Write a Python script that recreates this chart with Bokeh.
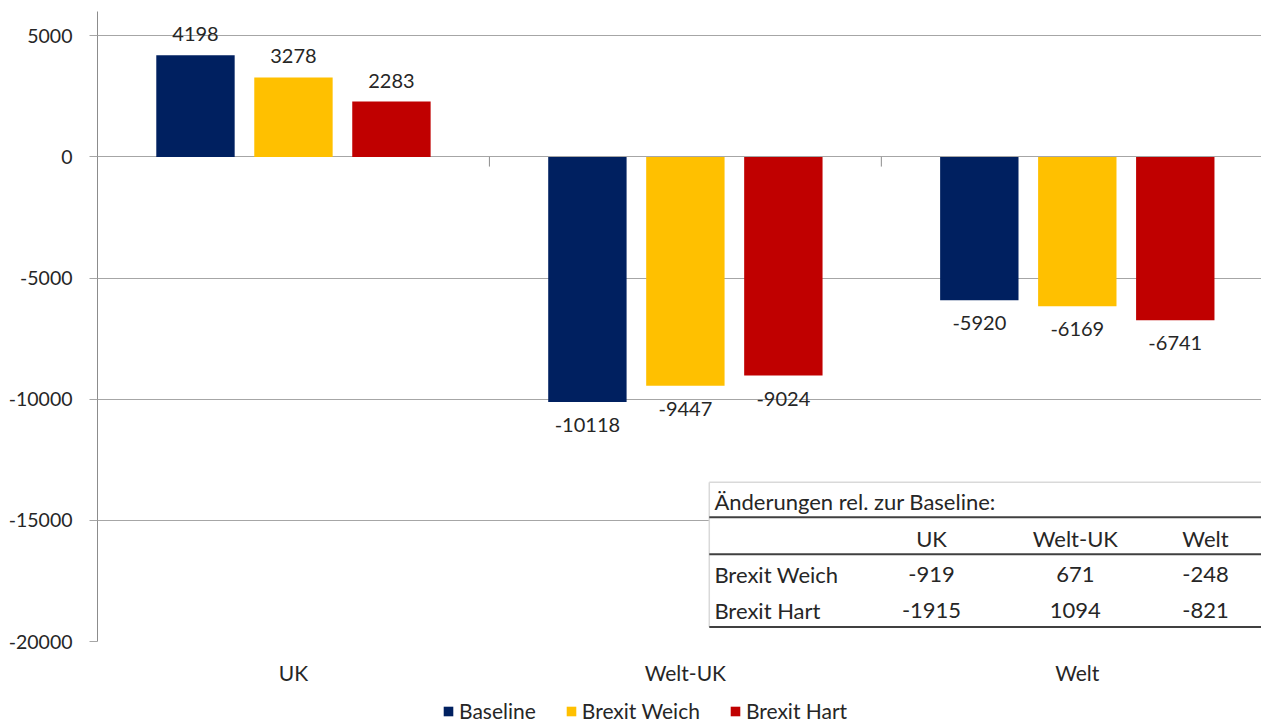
from bokeh.plotting import figure
from bokeh.layouts import column
from bokeh.models import (Range1d, ColumnDataSource, FixedTicker,
                          Legend, LegendItem)
from bokeh.transform import dodge
from bokeh.embed import file_html
from bokeh.resources import INLINE
from bokeh.core.properties import value

# ---------------- data ----------------
categories = ["UK", "Welt-UK", "Welt"]
series_names = ["Baseline", "Brexit Weich", "Brexit Hart"]
baseline = [4198, -10118, -5920]
brexit_weich = [3278, -9447, -6169]
brexit_hart = [2283, -9024, -6741]
y_ticks = [-20000, -15000, -10000, -5000, 0, 5000]

table_title = "Änderungen rel. zur Baseline:"
table_rows = ["Brexit Weich", "Brexit Hart"]
table_weich = [-919, 671, -248]
table_hart = [-1915, 1094, -821]

# ---------------- style ----------------
FONT = "Lato"
TXT = "#262626"
GRID = "#A6A6A6"
colors = ["#002060", "#FFC000", "#C00000"]
offsets = [-0.25, 0.0, 0.25]
BAR_W = 0.2
W = 1261

# category slots: category i occupies [i, i+1]; the frame shows a bit less
# than three full slots (the right edge of the original is cut off)
xc = [i + 0.5 for i in range(len(categories))]

p = figure(x_range=Range1d(0, 2.97), y_range=Range1d(-20000, 6000),
           width=W, height=694, output_backend="svg", toolbar_location=None,
           min_border_left=97, min_border_right=0, min_border_top=11,
           min_border_bottom=53)
p.outline_line_color = None
p.background_fill_color = "white"
p.xgrid.grid_line_color = None
p.yaxis.ticker = FixedTicker(ticks=y_ticks)
p.ygrid.grid_line_color = GRID
p.ygrid.grid_line_width = 1

p.yaxis.major_label_overrides = {t: str(t) for t in y_ticks}
p.yaxis.axis_line_color = "#8C8C8C"
p.yaxis.major_tick_line_color = GRID
p.yaxis.major_tick_out = 8
p.yaxis.major_tick_in = 0
p.yaxis.minor_tick_line_color = None
p.yaxis.major_label_standoff = 17
p.yaxis.major_label_text_font = FONT
p.yaxis.major_label_text_font_size = "19.5px"
p.yaxis.major_label_text_color = TXT

p.xaxis.ticker = FixedTicker(ticks=xc)
p.xaxis.major_label_overrides = {x: c for x, c in zip(xc, categories)}
p.xaxis.axis_line_color = None
p.xaxis.major_tick_line_color = None
p.xaxis.minor_tick_line_color = None
p.xaxis.major_label_standoff = 12
p.xaxis.major_label_text_font = FONT
p.xaxis.major_label_text_font_size = "21px"
p.xaxis.major_label_text_color = TXT

src = ColumnDataSource(dict(xc=xc, Baseline=baseline,
                            Weich=brexit_weich, Hart=brexit_hart))
cols = ["Baseline", "Weich", "Hart"]
for col, off, c, vals in zip(cols, offsets, colors, [baseline, brexit_weich, brexit_hart]):
    p.vbar(x=dodge("xc", off), top=col, bottom=0,
           width=BAR_W, source=src, fill_color=c, line_color=None)
    lsrc = ColumnDataSource(dict(xc=xc, v=vals,
                                 lbl=[str(v) for v in vals],
                                 yo=[-21 if v >= 0 else 23 for v in vals]))
    p.text(x=dodge("xc", off), y="v", text="lbl", y_offset="yo",
           source=lsrc, text_align="center", text_baseline="middle",
           text_font=value(FONT), text_font_size="20px", text_color=TXT)

# category separator ticks on the zero line
sep = ColumnDataSource(dict(xc=xc[:-1]))
p.segment(x0=dodge("xc", 0.5), y0=0, x1=dodge("xc", 0.5), y1=-400,
          source=sep, line_color="#8C8C8C", line_width=1)

# ---------------- inset table ----------------
TL, TR = 1.561, 2.97
T_TOP, T_BOT = -13430, -19405
Y_TITLE, Y_L1, Y_HEAD, Y_L2 = -14215, -14875, -15740, -16400
Y_R1, Y_R2 = -17225, -18710
col_x = [2.128, 2.495, 2.827]
p.quad(left=TL, right=TR, top=T_TOP, bottom=T_BOT, fill_color="white",
       line_color=None)
p.segment(x0=[TL, TL], y0=[T_TOP, T_TOP], x1=[TR, TL], y1=[T_TOP, T_BOT],
          line_color="#D9D9D9", line_width=1.5)
p.segment(x0=[TL] * 3, x1=[TR] * 3, y0=[Y_L1, Y_L2, T_BOT], y1=[Y_L1, Y_L2, T_BOT],
          line_color="#404040", line_width=2)
tkw = dict(text_font=value(FONT), text_font_size="22px", text_color=TXT,
           text_baseline="middle")
p.text(x=[TL + 0.013], y=[Y_TITLE], text=[table_title], text_align="left", **tkw)
p.text(x=col_x, y=[Y_HEAD] * 3, text=categories, text_align="center", **tkw)
p.text(x=[TL + 0.013] * 2, y=[Y_R1, Y_R2], text=table_rows, text_align="left", **tkw)
p.text(x=col_x, y=[Y_R1] * 3, text=[str(v) for v in table_weich],
       text_align="center", **tkw)
p.text(x=col_x, y=[Y_R2] * 3, text=[str(v) for v in table_hart],
       text_align="center", **tkw)

# ---------------- legend (own strip below the chart) ----------------
lp = figure(width=W, height=30, output_backend="svg", toolbar_location=None,
            x_range=Range1d(0, 1), y_range=Range1d(0, 1), min_border=0)
lp.axis.visible = False
lp.grid.visible = False
lp.outline_line_color = None
lrs = [lp.vbar(x=[-10], top=[-10], bottom=[-11], width=0.1, fill_color=c,
               line_color=None) for c in colors]
legend = Legend(items=[LegendItem(label=n, renderers=[r])
                       for n, r in zip(series_names, lrs)],
                orientation="horizontal", location=(345, 1),
                label_text_font=FONT, label_text_font_size="21px",
                label_text_color=TXT, glyph_width=12, glyph_height=12,
                label_height=20, spacing=29, label_standoff=5, padding=0,
                margin=0, border_line_color=None, background_fill_alpha=0)
lp.add_layout(legend, "center")

open("out.html", "w").write(file_html(column(p, lp, spacing=0), INLINE))
